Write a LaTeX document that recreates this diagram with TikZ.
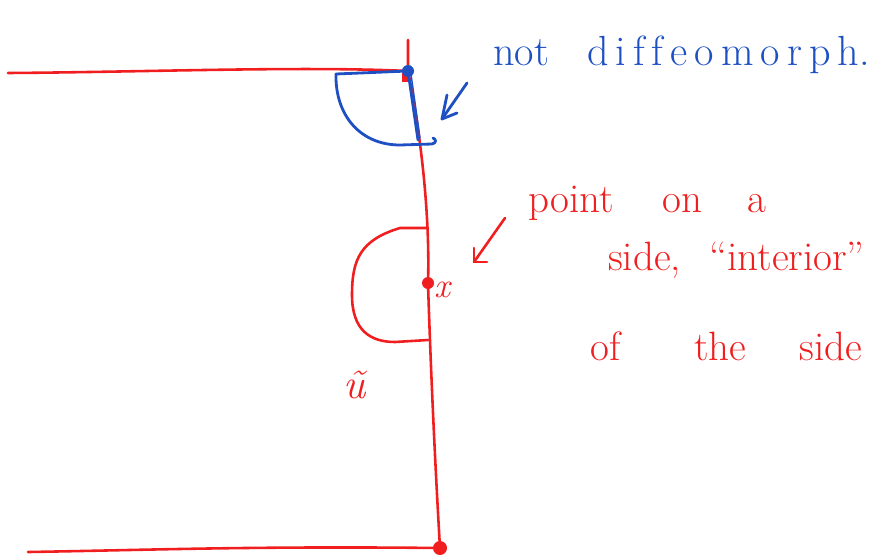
\documentclass[tikz,border=0pt]{standalone}
\usepackage{fontspec}
\definecolor{penred}{RGB}{240,30,30}
\definecolor{penblue}{RGB}{30,80,195}
\tikzset{
  redpen/.style={draw=penred, line width=2.2pt, line cap=round, line join=round},
  bluepen/.style={draw=penblue, line width=2.4pt, line cap=round, line join=round},
  redtxt/.style={text=penred, font=\fontsize{35}{37}\selectfont, anchor=base west, inner sep=0pt},
  bluetxt/.style={text=penblue, font=\fontsize{36}{38}\selectfont, anchor=base west, inner sep=0pt},
}
\begin{document}
\begin{tikzpicture}[x=0.03cm, y=-0.03cm]
\useasboundingbox (0,0) rectangle (896,560);
% named points
\coordinate (corner) at (408,71);
\coordinate (xpt) at (428,283);
\coordinate (bottom) at (440,548);
% red boundary lines
\draw[redpen] (8,73) .. controls (150,72) and (300,66) .. (corner);
\draw[redpen] (408,40) -- (corner) .. controls (422,140) and (430,220) .. (xpt)
   .. controls (431,380) and (436,480) .. (bottom);
\draw[redpen] (28,552) .. controls (150,550) and (250,546) .. (bottom);
\fill[penred] (bottom) circle (7);
% small red square at corner
\fill[penred] (402,73) rectangle (410,82);
% blue neighbourhood at corner
\draw[bluepen] (336,74) -- (corner);
\draw[bluepen] (336,74) .. controls (335,115) and (360,145) .. (400,145) -- (432,144) .. controls (437,143) and (436,139) .. (433,138);
\draw[bluepen] (corner) -- (418,140);
\draw[bluepen, line width=1.2pt] (411,74) -- (420,138);
\fill[penblue] (corner) circle (6);
% blue arrow
\coordinate (btip) at (442,119);
\draw[bluepen] (467,83) -- (btip);
\draw[bluepen] (447,95) -- (btip) -- (457,113);
\node[bluetxt] (nd) at (493,65) {not\hspace{0.9em}d\,i\,f\,f\,e\,o\,m\,o\,r\,p\,h.};
% red half-disc at interior point
\draw[redpen] (428,228) -- (400,228) .. controls (360,240) and (352,260) .. (352,295)
   .. controls (352,330) and (370,342) .. (395,342) -- (428,340);
\fill[penred] (xpt) circle (6);
\node[text=penred, font=\fontsize{30}{32}\selectfont\itshape, inner sep=0pt] (xl) at (442,290) {x};
\node[text=penred, font=\fontsize{36}{38}\selectfont\itshape, inner sep=0pt] (ul) at (355,385) {\~{u}};
% red arrow
\coordinate (rtip) at (474,262);
\draw[redpen] (505,218) -- (rtip);
\draw[redpen] (474,248) -- (rtip) -- (487,262);
\node[redtxt] (t1) at (528,212) {point\hspace{1.2em}on\hspace{1.1em}a};
\node[redtxt] (t2) at (608,270) {side,\hspace{0.7em}``interior''};
\node[redtxt] (t3) at (590,360) {of\hspace{1.8em}the\hspace{1.3em}side};
\end{tikzpicture}
\end{document}
